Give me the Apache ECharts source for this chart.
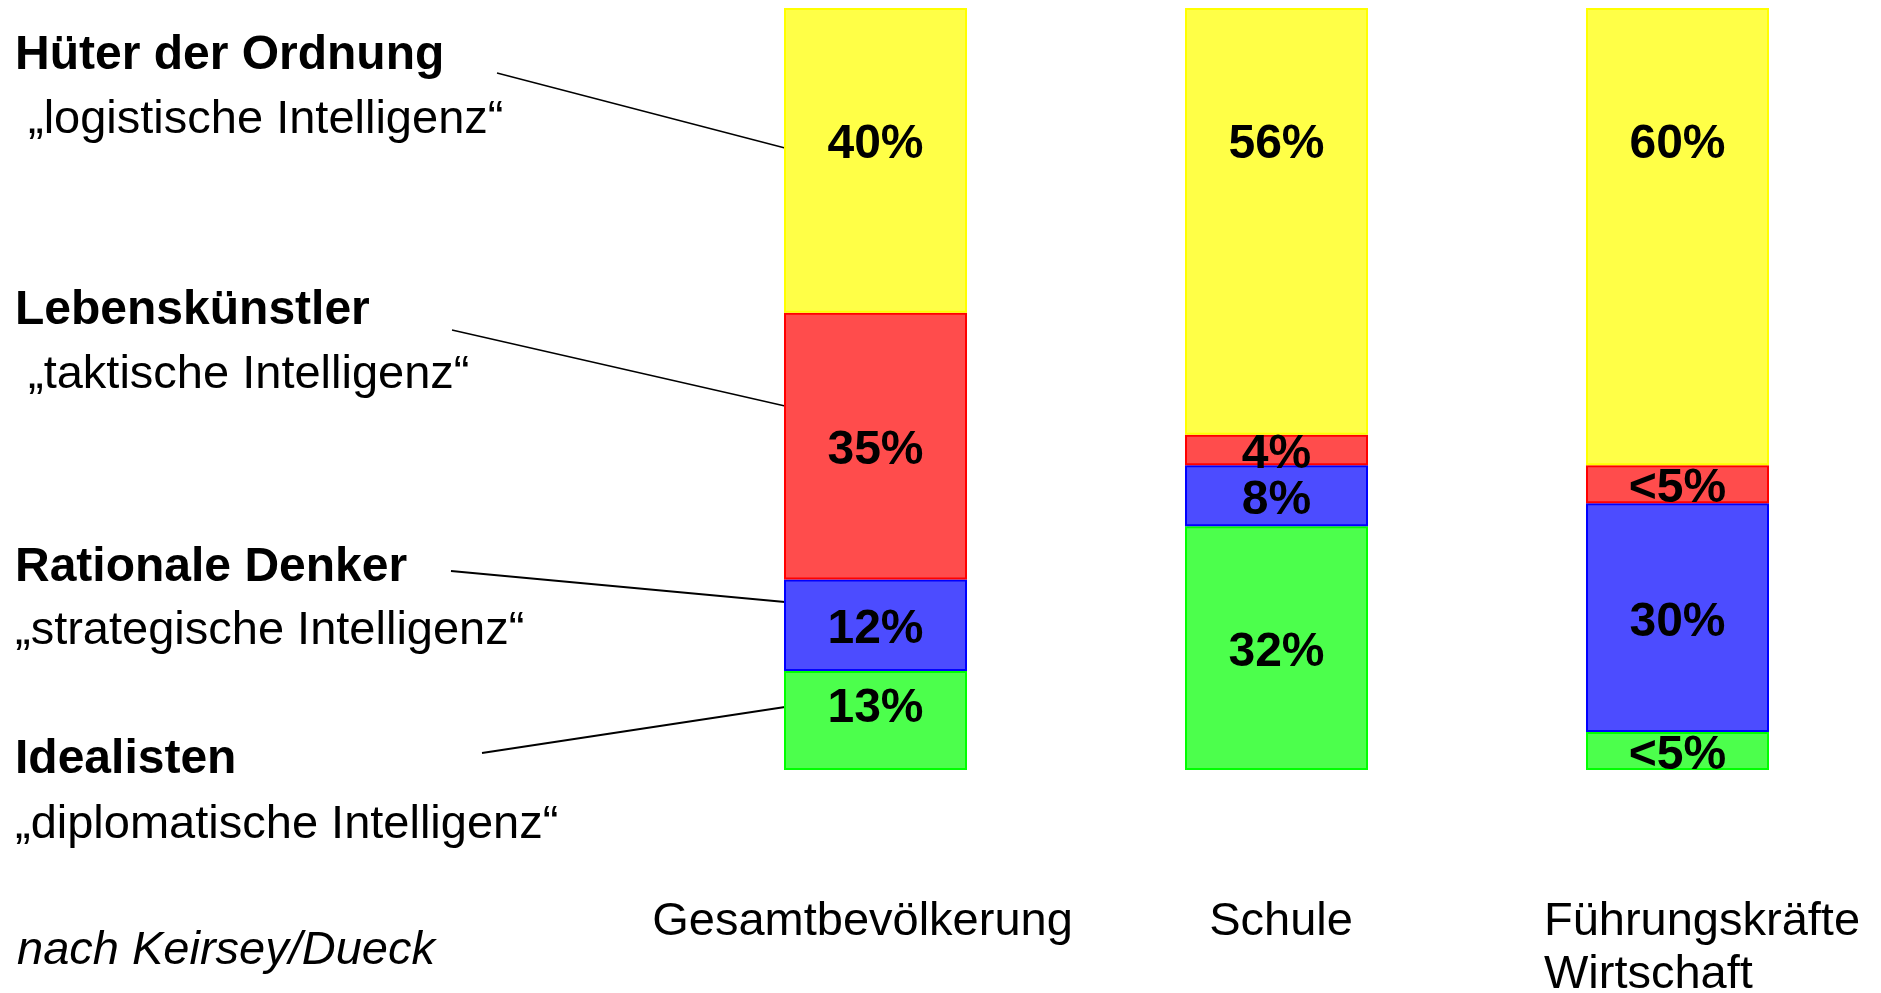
<!DOCTYPE html>
<html>
<head>
<meta charset="utf-8">
<title>Temperamente nach Keirsey/Dueck</title>
<script src="https://cdn.jsdelivr.net/npm/echarts@6/dist/echarts.min.js"></script>
<style>
  html, body { margin: 0; padding: 0; background: #fff; }
  #chart { width: 1881px; height: 993px; }
</style>
</head>
<body>
<div id="chart"></div>
<script>
var groups = ["Gesamtbevölkerung", "Schule", "Führungskräfte\nWirtschaft"];

// stacked from the bottom up
var idealisten = [13, 32, 5];
var rationale = [12, 8, 30];
var lebenskuenstler = [35, 4, 5];
var hueter = [40, 56, 60];

var idealistenText = ["13%", "32%", "<5%"];
var rationaleText = ["12%", "8%", "30%"];
var lebenskuenstlerText = ["35%", "4%", "<5%"];
var hueterText = ["40%", "56%", "60%"];

var typeNames = ["Hüter der Ordnung", "Lebenskünstler", "Rationale Denker", "Idealisten"];
var typeSubs = ["„logistische Intelligenz“", "„taktische Intelligenz“", "„strategische Intelligenz“", "„diplomatische Intelligenz“"];
var source = "nach Keirsey/Dueck";

var FONT = "'Liberation Sans', Arial, Helvetica, sans-serif";

var chart = echarts.init(document.getElementById("chart"));

function mkSeries(name, values, texts, fill, border, labelOpt, overrides) {
  return {
    name: name,
    type: "bar",
    stack: "all",
    barWidth: 183,
    itemStyle: { color: fill, borderColor: border, borderWidth: 2 },
    label: Object.assign({
      show: true,
      position: "inside",
      offset: [0, 5],
      color: "#000",
      fontFamily: FONT,
      fontWeight: "bold",
      fontSize: 48,
      formatter: function (p) { return texts[p.dataIndex]; }
    }, labelOpt || {}),
    data: values.map(function (v, i) {
      if (overrides && overrides[i]) return { value: v, label: overrides[i] };
      return v;
    })
  };
}

var graphics = [];
var nameY = [56, 311, 568, 760];
var subY = [120, 375, 631, 825];
var subX = [28, 28, 15, 15];
typeNames.forEach(function (t, i) {
  graphics.push({ type: "text", x: 15, y: nameY[i],
    style: { text: t, fill: "#000", font: "bold 48px " + FONT, verticalAlign: "middle" } });
  graphics.push({ type: "text", x: subX[i], y: subY[i],
    style: { text: typeSubs[i], fill: "#000", font: "47px " + FONT, verticalAlign: "middle" } });
});
graphics.push({ type: "text", x: 17, y: 951,
  style: { text: source, fill: "#000", font: "italic 47px " + FONT, verticalAlign: "middle" } });

// leader lines from the type names to the first column
var leaders = [
  [497, 73, 785, 148, 1.3],
  [452, 330, 785, 406, 1.3],
  [451, 571, 785, 602, 2],
  [482, 753, 785, 707, 2]
];
leaders.forEach(function (l) {
  graphics.push({ type: "line", shape: { x1: l[0], y1: l[1], x2: l[2], y2: l[3] },
    style: { stroke: "#000", lineWidth: l[4] } });
});

var catStyle = { fontFamily: FONT, fontSize: 47, color: "#000", lineHeight: 53 };

var option = {
  animation: false,
  backgroundColor: "#fff",
  grid: { left: 675, right: 3, top: 8, bottom: 223, outerBoundsMode: "none", containLabel: false },
  xAxis: {
    type: "category",
    data: groups,
    axisLine: { show: false },
    axisTick: { show: false },
    axisLabel: {
      interval: 0,
      margin: 126,
      formatter: function (v, i) {
        if (i === 0) return "{g|" + v + "}";
        if (i === 1) return "{s|" + v + "}";
        return v.split("\n").map(function (s) { return "{w|" + s + "}"; }).join("\n");
      },
      rich: {
        g: Object.assign({ padding: [0, 26, 0, 0] }, catStyle),
        s: Object.assign({ padding: [0, 0, 0, 9] }, catStyle),
        w: Object.assign({ align: "left", padding: [0, 0, 0, 49] }, catStyle)
      }
    }
  },
  yAxis: { type: "value", min: 0, max: 100, show: false },
  graphic: graphics,
  series: [
    mkSeries("Idealisten", idealisten, idealistenText, "#4cff4c", "#00ff00", null,
      { 0: { position: ["50%", 38], align: "center", verticalAlign: "middle", offset: [0, 0] } }),
    mkSeries("Rationale Denker", rationale, rationaleText, "#4c4cff", "#0000ff"),
    mkSeries("Lebenskünstler", lebenskuenstler, lebenskuenstlerText, "#ff4c4c", "#ff0000"),
    mkSeries("Hüter der Ordnung", hueter, hueterText, "#ffff47", "#ffff00",
      { position: ["50%", 137], align: "center", verticalAlign: "middle", offset: [0, 0] })
  ]
};

chart.setOption(option);
</script>
</body>
</html>
